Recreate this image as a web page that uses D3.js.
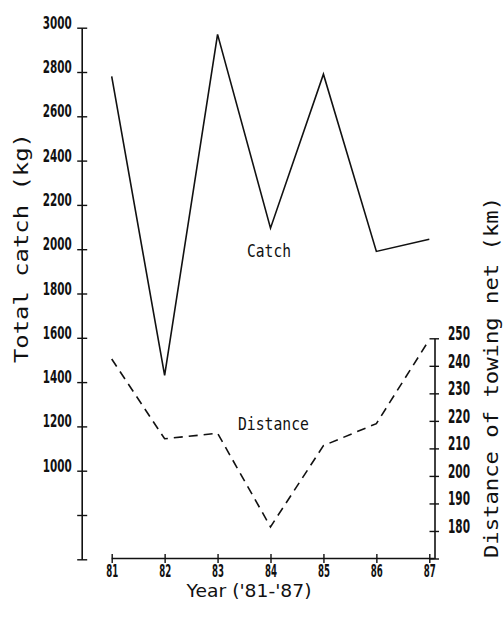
<!DOCTYPE html>
<html><head><meta charset="utf-8">
<script src="https://cdn.jsdelivr.net/npm/d3@7"></script>
<style>body{margin:0;background:#fff}svg{display:block}</style>
</head><body>
<svg id="c" width="503" height="617"></svg>
<script>
const years = [81, 82, 83, 84, 85, 86, 87];
const catchKg = [2780, 1430, 2970, 2095, 2790, 1990, 2045];
const distanceKm = [242.5, 213.5, 215.5, 181.5, 211, 219, 249.5];
const leftTicks = [600, 800, 1000, 1200, 1400, 1600, 1800, 2000, 2200, 2400, 2600, 2800, 3000];
const leftTickLabels = ["", "", "1000", "1200", "1400", "1600", "1800", "2000", "2200", "2400", "2600", "2800", "3000"];
const rightTicks = [170, 180, 190, 200, 210, 220, 230, 240, 250];
const rightTickLabels = ["", "180", "190", "200", "210", "220", "230", "240", "250"];
const xTickLabels = ["81", "82", "83", "84", "85", "86", "87"];

const svg = d3.select("#c");
const ink = "#111";
const x = d3.scaleLinear().domain([81, 87]).range([111.7, 429.3]);
const yL = d3.scaleLinear().domain([600, 3000]).range([559.3, 27.7]);
const yR = d3.scaleLinear().domain([170, 250]).range([558.5, 338.3]);
const axisXpos = 81.7, rightXpos = 434.5, bottomY = 558.5;

const condensed = "'DejaVu Sans', sans-serif";
const mono = "'DejaVu Sans Mono', monospace";

// Left axis
const gL = svg.append("g").attr("transform", `translate(${axisXpos},0)`)
  .call(d3.axisLeft(yL).tickValues(leftTicks).tickSizeOuter(0)
    .tickFormat((d, i) => leftTickLabels[i]));
gL.select(".domain").attr("stroke", ink).attr("stroke-width", 1.6);
gL.selectAll(".tick line").attr("x1", -4.5).attr("x2", 5.5).attr("stroke", ink).attr("stroke-width", 1.4);
gL.selectAll(".tick text").attr("x", -10).attr("dy", 0).attr("y", 0.5)
  .attr("font-family", condensed).attr("font-size", 18).attr("font-weight", "bold").attr("fill", ink)
  .attr("textLength", function(){ return this.textContent.length ? 29 : null; })
  .attr("lengthAdjust", "spacingAndGlyphs");

// Right axis
const gR = svg.append("g").attr("transform", `translate(${rightXpos},0)`)
  .call(d3.axisRight(yR).tickValues(rightTicks).tickSizeOuter(0)
    .tickFormat((d, i) => rightTickLabels[i]));
gR.select(".domain").attr("stroke", ink).attr("stroke-width", 1.6);
gR.selectAll(".tick line").attr("x1", -5).attr("x2", 4.5).attr("stroke", ink).attr("stroke-width", 1.4);
gR.selectAll(".tick text").attr("x", 13.5).attr("dy", 0).attr("y", 1.5)
  .attr("font-family", condensed).attr("font-size", 20).attr("font-weight", "bold").attr("fill", ink)
  .attr("textLength", function(){ return this.textContent.length ? 22 : null; })
  .attr("lengthAdjust", "spacingAndGlyphs");

// Bottom axis
const gB = svg.append("g").attr("transform", `translate(0,${bottomY})`)
  .call(d3.axisBottom(x).tickValues(years).tickSizeOuter(0)
    .tickFormat((d, i) => xTickLabels[i]));
gB.select(".domain").attr("d", `M${x(81)},0H${rightXpos}`).attr("stroke", ink).attr("stroke-width", 1.6);
gB.selectAll(".tick line").attr("y1", -4.5).attr("y2", 4.5).attr("stroke", ink).attr("stroke-width", 1.4);
gB.selectAll(".tick text").attr("y", 18).attr("dy", 0)
  .attr("font-family", condensed).attr("font-size", 18).attr("font-weight", "bold").attr("fill", ink)
  .attr("textLength", 12).attr("lengthAdjust", "spacingAndGlyphs");

// Lines
const catchLine = d3.line().x((d, i) => x(years[i])).y(d => yL(d));
svg.append("path").datum(catchKg).attr("d", catchLine)
  .attr("fill", "none").attr("stroke", ink).attr("stroke-width", 1.6);

const distLine = d3.line().x((d, i) => x(years[i])).y(d => yR(d));
svg.append("path").datum(distanceKm).attr("d", distLine)
  .attr("fill", "none").attr("stroke", ink).attr("stroke-width", 1.6)
  .attr("stroke-dasharray", "9,6");

// Series labels
svg.append("text").attr("x", 269).attr("y", 257).attr("text-anchor", "middle")
  .attr("font-family", mono).attr("font-size", 18).attr("fill", ink)
  .attr("textLength", 44).attr("lengthAdjust", "spacingAndGlyphs").text("Catch");
svg.append("text").attr("x", 273.5).attr("y", 430).attr("text-anchor", "middle")
  .attr("font-family", mono).attr("font-size", 18).attr("fill", ink)
  .attr("textLength", 71).attr("lengthAdjust", "spacingAndGlyphs").text("Distance");

// Axis titles
svg.append("text").attr("x", 249).attr("y", 597).attr("text-anchor", "middle")
  .attr("font-family", condensed).attr("font-size", 18).attr("fill", ink)
  .attr("textLength", 125).attr("lengthAdjust", "spacingAndGlyphs").text("Year ('81-'87)");

svg.append("text").attr("transform", "translate(28,248) rotate(-90)")
  .attr("text-anchor", "middle")
  .attr("font-family", mono).attr("font-size", 20).attr("fill", ink)
  .attr("textLength", 230).attr("lengthAdjust", "spacingAndGlyphs").text("Total catch (kg)");

svg.append("text").attr("transform", "translate(498,377.5) rotate(-90)")
  .attr("text-anchor", "middle")
  .attr("font-family", mono).attr("font-size", 20).attr("fill", ink)
  .attr("textLength", 361).attr("lengthAdjust", "spacingAndGlyphs").text("Distance of towing net (km)");
</script>
</body></html>
